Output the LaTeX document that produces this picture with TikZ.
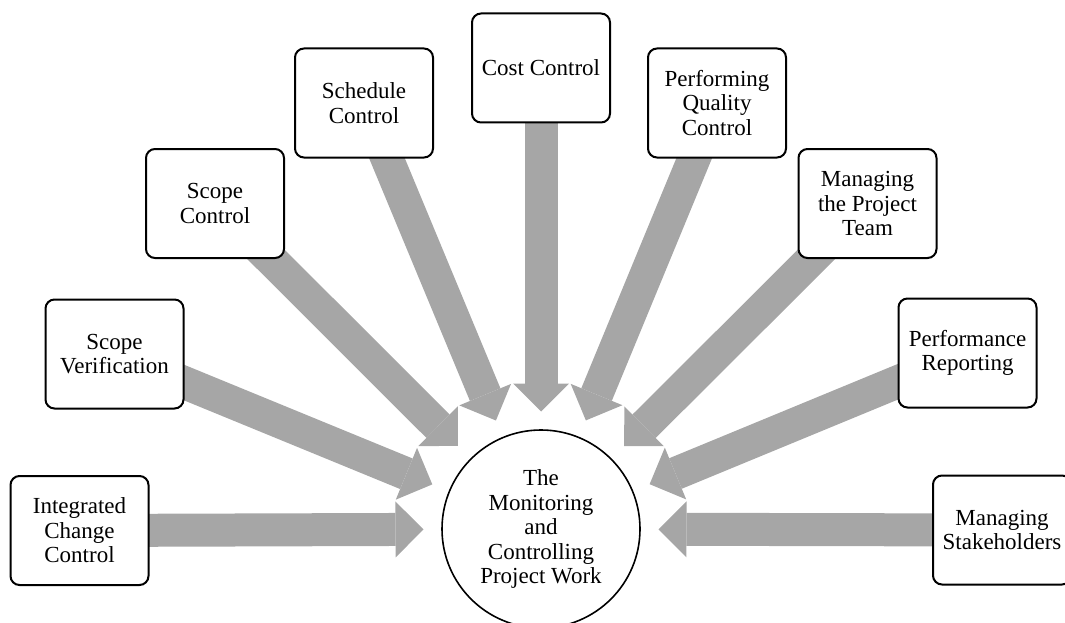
\documentclass[tikz,border=0pt]{standalone}
\usepackage{fontspec}
\setmainfont{Liberation Serif}
\usetikzlibrary{arrows.meta,calc,backgrounds}
\definecolor{arrowgray}{RGB}{166,166,166}
\begin{document}
\begin{tikzpicture}[x=1pt,y=-1pt,
  box/.style={draw=black,line width=2pt,fill=white,rounded corners=9pt,
    minimum width=138pt,minimum height=109pt,align=center,inner sep=2pt,
    font=\fontsize{23}{24.5}\selectfont},
  hub/.style={draw=black,line width=1.6pt,fill=white,circle,minimum size=198pt,
    align=center,inner sep=0pt,font=\fontsize{23}{24.5}\selectfont},
  blockarrow/.style={draw=arrowgray,line width=33pt,
    -{Triangle[length=28pt,width=56pt,line width=0pt]}}]
\useasboundingbox (0,0) rectangle (1065,623);
\node[hub] (M) at (541,529) {The\\Monitoring\\and\\Controlling\\Project Work};
\node[box] (ICC) at (79.5,530.5) {Integrated\\Change\\Control};
\node[box] (SV) at (114.5,354) {Scope\\Verification};
\node[box] (SC) at (215,203.5) {Scope\\Control};
\node[box] (SCH) at (364,103) {Schedule\\Control};
\node[box] (CC) at (541,68) {Cost Control};
\node[box] (PQC) at (717,103) {Performing\\Quality\\Control};
\node[box] (MPT) at (867.5,203.5) {Managing\\the Project\\Team};
\node[box] (PR) at (967.5,353) {Performance\\Reporting};
\node[box] (MS) at (1002,530) {Managing\\Stakeholders};
\begin{scope}[on background layer]
\foreach \b in {ICC,SV,SC,SCH,CC,PQC,MPT,PR,MS}{
  \coordinate (tip-\b) at ($(M.center)!117.5pt!(\b.center)$);
  \draw[blockarrow] (\b.center) -- (tip-\b);
}
\end{scope}
\end{tikzpicture}
\end{document}
